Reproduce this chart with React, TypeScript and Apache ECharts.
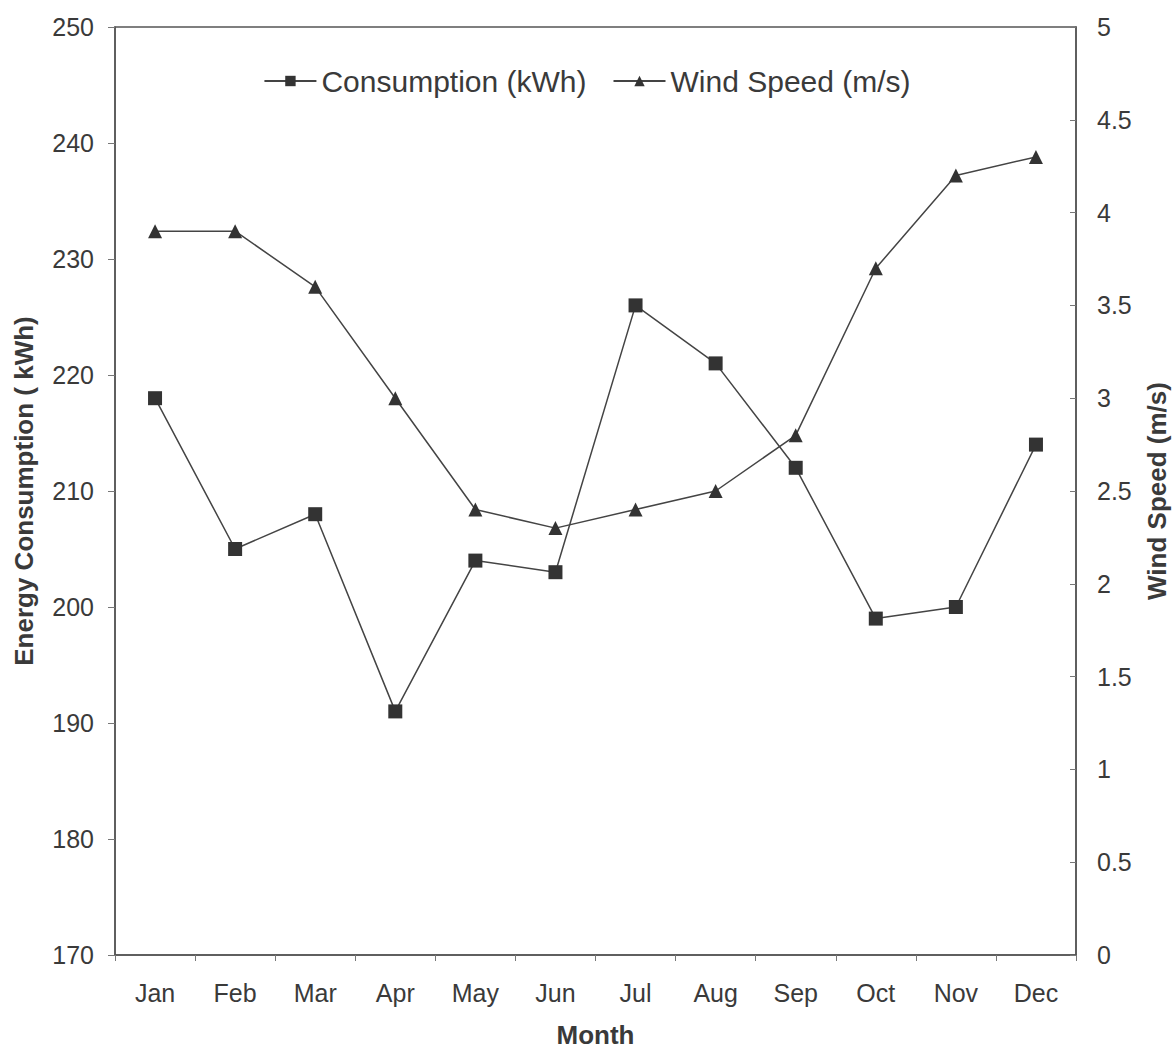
import React, { useEffect, useRef } from "react";
import * as echarts from "echarts";

const months = ["Jan", "Feb", "Mar", "Apr", "May", "Jun", "Jul", "Aug", "Sep", "Oct", "Nov", "Dec"];
const consumption = [218, 205, 208, 191, 204, 203, 226, 221, 212, 199, 200, 214];
const windSpeed = [3.9, 3.9, 3.6, 3.0, 2.4, 2.3, 2.4, 2.5, 2.8, 3.7, 4.2, 4.3];

export default function App() {
  const ref = useRef<HTMLDivElement>(null);
  useEffect(() => {
    if (!ref.current) return;
    const chart = echarts.init(ref.current, undefined, { renderer: "svg" });
    const font = "'Liberation Sans', Arial, sans-serif";
    const textColor = "#3a3a3a";
    const lineColor = "#444";
    chart.setOption({
      animation: false,
      backgroundColor: "#fff",
      textStyle: { fontFamily: font },
      grid: {
        left: 115,
        right: 98,
        top: 27,
        bottom: 95,
        containLabel: false,
        outerBoundsMode: "none",
        show: true,
        borderColor: "#555",
        borderWidth: 1.5,
      },
      legend: {
        top: 61,
        left: "center",
        itemWidth: 52,
        itemHeight: 13,
        itemGap: 26,
        textStyle: { fontFamily: font, fontSize: 30, color: textColor },
        data: ["Consumption (kWh)", "Wind Speed (m/s)"],
      },
      xAxis: {
        type: "category",
        data: months,
        boundaryGap: true,
        name: "Month",
        nameLocation: "middle",
        nameGap: 67,
        nameTextStyle: { fontFamily: font, fontSize: 26, lineHeight: 26, fontWeight: "bold", color: textColor },
        axisLine: { lineStyle: { color: "#555", width: 1.5 } },
        axisTick: { show: true, length: 6, lineStyle: { color: "#777" } },
        axisLabel: { fontFamily: font, fontSize: 25, color: textColor, margin: 25 },
      },
      yAxis: [
        {
          type: "value",
          min: 170,
          max: 250,
          interval: 10,
          position: "left",
          name: "Energy Consumption ( kWh)",
          nameLocation: "middle",
          nameRotate: 90,
          nameGap: 78,
          nameTextStyle: { fontFamily: font, fontSize: 26, fontWeight: "bold", color: textColor },
          axisLine: { show: true, lineStyle: { color: "#555", width: 1.5 } },
          axisTick: { show: true, length: 7, lineStyle: { color: "#777" } },
          axisLabel: { fontFamily: font, fontSize: 25, color: textColor, margin: 21 },
          splitLine: { show: false },
        },
        {
          type: "value",
          min: 0,
          max: 5,
          interval: 0.5,
          position: "right",
          name: "Wind Speed (m/s)",
          nameLocation: "middle",
          nameRotate: 90,
          nameGap: 68,
          nameTextStyle: { fontFamily: font, fontSize: 26, lineHeight: 26, fontWeight: "bold", color: textColor },
          axisLine: { show: true, lineStyle: { color: "#555", width: 1.5 } },
          axisTick: { show: true, inside: true, length: 6, lineStyle: { color: "#777" } },
          axisLabel: { fontFamily: font, fontSize: 25, color: textColor, margin: 21 },
          splitLine: { show: false },
        },
      ],
      series: [
        {
          name: "Consumption (kWh)",
          type: "line",
          yAxisIndex: 0,
          data: consumption,
          symbol: "rect",
          symbolSize: 14,
          lineStyle: { color: lineColor, width: 1.5 },
          itemStyle: { color: "#333" },
        },
        {
          name: "Wind Speed (m/s)",
          type: "line",
          yAxisIndex: 1,
          data: windSpeed,
          symbol: "triangle",
          symbolSize: 14,
          lineStyle: { color: lineColor, width: 1.5 },
          itemStyle: { color: "#333" },
        },
      ],
    });
    return () => chart.dispose();
  }, []);
  return (
    <div
      ref={ref}
      style={{ position: "absolute", left: 0, top: 0, width: 1174, height: 1050 }}
    />
  );
}
